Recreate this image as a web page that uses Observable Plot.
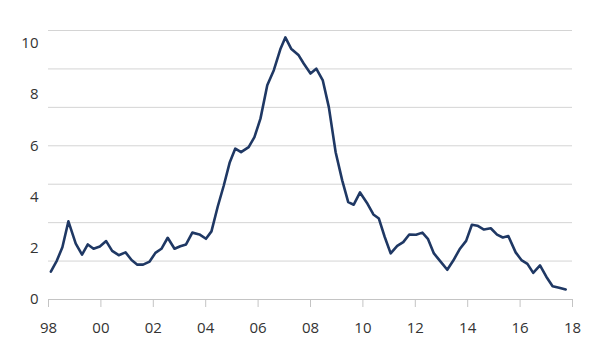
<!DOCTYPE html>
<html>
<head>
<meta charset="utf-8">
<script src="https://cdn.jsdelivr.net/npm/d3@7"></script>
<script src="https://cdn.jsdelivr.net/npm/@observablehq/plot@0.6"></script>
<style>
  html, body { margin: 0; padding: 0; background: #fff; }
  #chart svg { display: block; }
</style>
</head>
<body>
<div id="chart"></div>
<script>
const years = [
  1998.09, 1998.32, 1998.53, 1998.76, 1999.04, 1999.28, 1999.50, 1999.72, 1999.96,
  2000.20, 2000.43, 2000.68, 2000.94, 2001.17, 2001.39, 2001.61, 2001.86,
  2002.08, 2002.31, 2002.55, 2002.81, 2003.03, 2003.25, 2003.49, 2003.76,
  2004.01, 2004.22, 2004.46, 2004.69, 2004.92, 2005.13, 2005.35, 2005.64, 2005.86,
  2006.09, 2006.35, 2006.60, 2006.86, 2007.04, 2007.26, 2007.55, 2007.74,
  2008.00, 2008.22, 2008.47, 2008.70, 2008.96, 2009.21, 2009.44, 2009.65, 2009.89,
  2010.15, 2010.40, 2010.61, 2010.83, 2011.06, 2011.31, 2011.54, 2011.77,
  2012.03, 2012.27, 2012.48, 2012.71, 2012.95, 2013.22, 2013.45, 2013.69, 2013.94,
  2014.16, 2014.37, 2014.62, 2014.88, 2015.12, 2015.34, 2015.55, 2015.83,
  2016.05, 2016.28, 2016.50, 2016.76, 2017.00, 2017.24, 2017.49, 2017.74
];
const values = [
  1.09, 1.52, 2.04, 3.05, 2.18, 1.75, 2.15, 1.98, 2.07,
  2.28, 1.90, 1.73, 1.84, 1.54, 1.36, 1.36, 1.48,
  1.82, 1.98, 2.41, 1.98, 2.08, 2.15, 2.61, 2.54,
  2.37, 2.66, 3.63, 4.45, 5.36, 5.89, 5.75, 5.95, 6.34,
  7.06, 8.36, 8.95, 9.80, 10.23, 9.79, 9.53, 9.21,
  8.82, 9.01, 8.55, 7.51, 5.75, 4.65, 3.80, 3.70, 4.18,
  3.78, 3.32, 3.16, 2.45, 1.80, 2.09, 2.24, 2.54,
  2.53, 2.61, 2.37, 1.80, 1.50, 1.16, 1.52, 1.96, 2.29,
  2.92, 2.88, 2.73, 2.78, 2.53, 2.42, 2.48, 1.84,
  1.54, 1.39, 1.04, 1.33, 0.89, 0.52, 0.46, 0.39
];
const xTicks = [1998, 2000, 2002, 2004, 2006, 2008, 2010, 2012, 2014, 2016, 2018];
const yTicks = [0, 2, 4, 6, 8, 10];
const gridLines = [0, 1.5, 3, 4.5, 6, 7.5, 9, 10.5];

const data = years.map((t, i) => ({t, v: values[i]}));

const chart = Plot.plot({
  width: 600,
  height: 355,
  marginLeft: 48,
  marginRight: 28,
  marginTop: 30,
  marginBottom: 56,
  style: {fontFamily: "'Open Sans', sans-serif", fontSize: "15px", color: "#333", background: "#fff"},
  x: {domain: [1998, 2018]},
  y: {domain: [0, 10.5]},
  marks: [
    Plot.ruleY(gridLines, {stroke: "#d4d4d4", strokeWidth: 1}),
    Plot.axisY({ticks: yTicks, tickSize: 0, tickPadding: 10, fill: "#333", label: null,
      tickFormat: d => String(d)}),
    Plot.axisX({ticks: xTicks, tickSize: 8, tickPadding: 15, stroke: "#c4c4c4", fill: "#333", label: null,
      tickFormat: d => String(d % 100).padStart(2, "0")}),
    Plot.ruleY([0], {stroke: "#c4c4c4", strokeWidth: 1}),
    Plot.line(data, {x: "t", y: "v", stroke: "#1f3864", strokeWidth: 2.6, strokeLinejoin: "round"})
  ]
});
document.getElementById("chart").appendChild(chart);
</script>
</body>
</html>
